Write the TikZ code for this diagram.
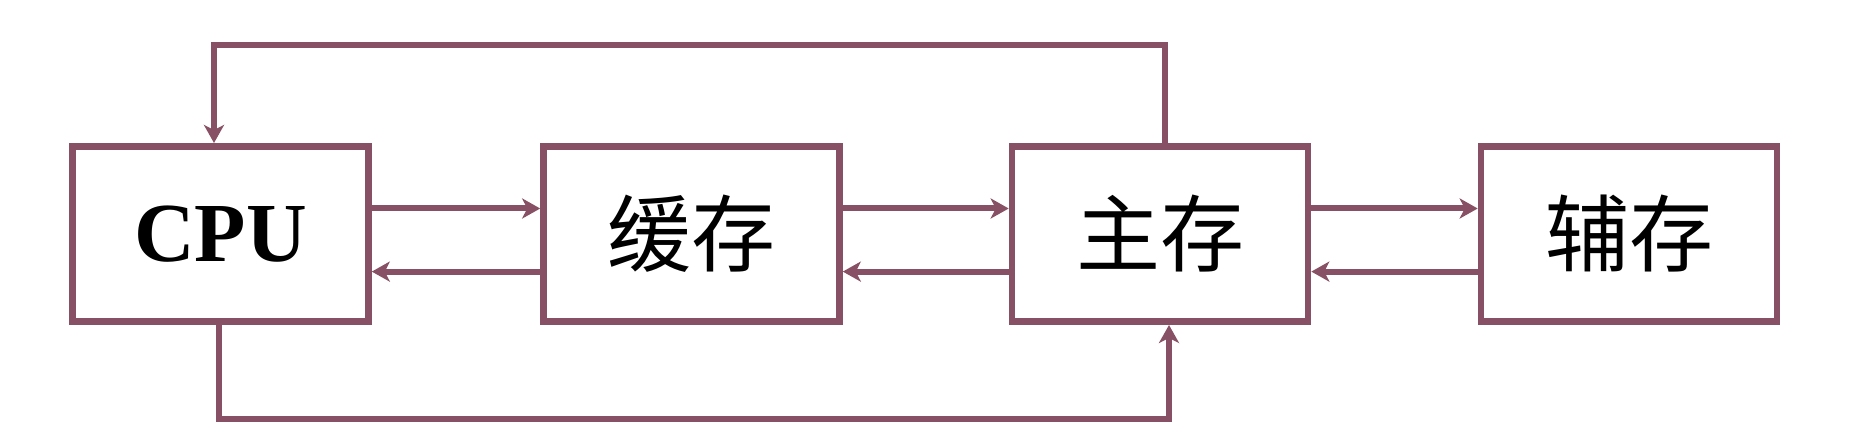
\documentclass[tikz,border=0pt]{standalone}
\usepackage{fontspec}
\setmainfont{Liberation Serif}
\newfontfamily\cjk{Noto Sans CJK SC}
\usetikzlibrary{arrows.meta}
\definecolor{mauve}{RGB}{135,80,100}
\begin{document}
\begin{tikzpicture}[x=0.5pt,y=-0.5pt,
  box/.style={draw=mauve,line width=3.3pt,minimum width=148pt,minimum height=87.7pt,inner sep=0pt,fill=white,font=\fontsize{42}{42}\selectfont},
  arr/.style={draw=mauve,line width=3pt,-{Stealth[length=9pt,width=10pt,inset=2.5pt]}}]
\useasboundingbox (0,0) rectangle (1868,448);
\node[box] (cpu) at (220.5,234) {\textbf{CPU}};
\node[box] (cache) at (691.5,234) {\cjk 缓存};
\node[box] (main) at (1160,234) {\cjk 主存};
\node[box] (aux) at (1629,234) {\cjk 辅存};
\coordinate (top) at (700,45);
\coordinate (bot) at (700,419);
% horizontal pairs
\draw[arr] ([yshift=12.75pt]cpu.east) -- ([yshift=12.75pt]cache.west);
\draw[arr] ([yshift=-18.8pt]cache.west) -- ([yshift=-18.8pt]cpu.east);
\draw[arr] ([yshift=12.75pt]cache.east) -- ([yshift=12.75pt]main.west);
\draw[arr] ([yshift=-18.8pt]main.west) -- ([yshift=-18.8pt]cache.east);
\draw[arr] ([yshift=12.75pt]main.east) -- ([yshift=12.75pt]aux.west);
\draw[arr] ([yshift=-18.8pt]aux.west) -- ([yshift=-18.8pt]main.east);
% loops
\draw[arr,rounded corners=0pt] ([xshift=2.5pt]main.north) |- (top) -| ([xshift=-3.25pt]cpu.north);
\draw[arr] ([xshift=-0.75pt]cpu.south) |- (bot) -| ([xshift=4.5pt]main.south);
\end{tikzpicture}
\end{document}
